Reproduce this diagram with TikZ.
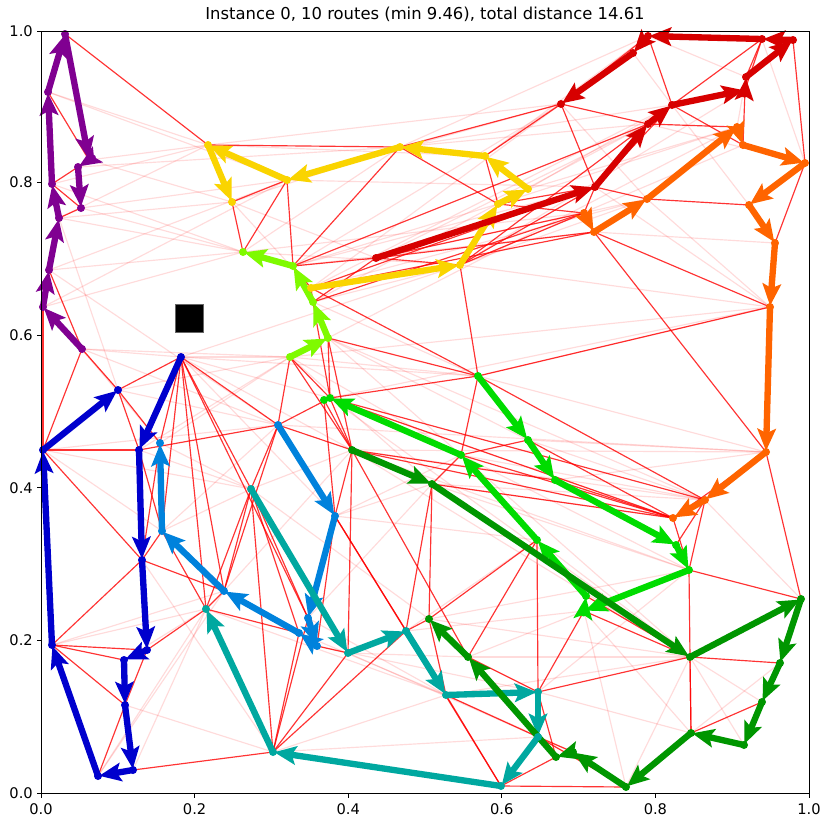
\documentclass[tikz,border=0pt]{standalone}
\usepackage{fontspec}
\setmainfont{DejaVu Sans}
\usetikzlibrary{arrows.meta}
\definecolor{cpur}{RGB}{128,0,145}
\definecolor{cdb}{RGB}{0,0,205}
\definecolor{clb}{RGB}{0,130,220}
\definecolor{cteal}{RGB}{0,168,160}
\definecolor{cyel}{RGB}{250,212,0}
\definecolor{clime}{RGB}{127,250,0}
\definecolor{cgrn}{RGB}{0,220,0}
\definecolor{cdg}{RGB}{0,150,0}
\definecolor{corg}{RGB}{255,100,0}
\definecolor{cred}{RGB}{215,0,0}
\begin{document}
\begin{tikzpicture}[x=0.03cm,y=-0.03cm,
  strong/.style={red, line width=0.035cm, opacity=0.8},
  faint/.style={red, line width=0.035cm, opacity=0.14},
  rte/.style={line width=0.19cm, line cap=round, -{Stealth[length=0.66cm,width=0.55cm,inset=0.13cm]}, shorten >=1pt},
  tick/.style={black, line width=0.025cm},
  lbl/.style={font=\fontsize{12.5}{14}\selectfont, inner sep=0pt}]
\useasboundingbox (0,0) rectangle (831,827);
\fill[white] (0,0) rectangle (831,827);
% purple
\coordinate (p1) at (82,349); \coordinate (p2) at (43,307); \coordinate (p3) at (49,270);
\coordinate (p4) at (59,218); \coordinate (p5) at (52,184); \coordinate (p6) at (48,92);
\coordinate (p7) at (65,34); \coordinate (p8) at (89,160); \coordinate (p9) at (78,167);
\coordinate (p10) at (81,208);
% dark blue
\coordinate (b1) at (181,357); \coordinate (b2) at (139,450); \coordinate (b3) at (142,560);
\coordinate (b4) at (147,650); \coordinate (b5) at (124,660); \coordinate (b6) at (125,705);
\coordinate (b7) at (133,770); \coordinate (b8) at (98,776); \coordinate (b9) at (52,645);
\coordinate (b10) at (43,450); \coordinate (b11) at (118,390);
% light blue
\coordinate (l1) at (278,425); \coordinate (l2) at (335,516); \coordinate (l3) at (308,618);
\coordinate (l4) at (317,646); \coordinate (l5) at (299,633); \coordinate (l6) at (224,591);
\coordinate (l7) at (162,531); \coordinate (l8) at (160,443);
% teal
\coordinate (t1) at (251,489); \coordinate (t2) at (348,653); \coordinate (t3) at (406,631);
\coordinate (t4) at (446,695); \coordinate (t5) at (538,692); \coordinate (t6) at (538,737);
\coordinate (t7) at (501,786); \coordinate (t8) at (273,752); \coordinate (t9) at (206,609);
% yellow
\coordinate (y1) at (311,288); \coordinate (y2) at (460,265); \coordinate (y3) at (498,204);
\coordinate (y4) at (528,189); \coordinate (y5) at (485,156); \coordinate (y6) at (400,147);
\coordinate (y7) at (287,180); \coordinate (y8) at (208,145); \coordinate (y9) at (232,202);
% lime
\coordinate (c1) at (290,357); \coordinate (c2) at (328,338); \coordinate (c3) at (313,302);
\coordinate (c4) at (293,266); \coordinate (c5) at (243,252);
% green
\coordinate (g1) at (478,376); \coordinate (g2) at (528,440); \coordinate (g3) at (555,480);
\coordinate (g4) at (676,545); \coordinate (g5) at (689,570); \coordinate (g6) at (584,611);
\coordinate (g7) at (586,596); \coordinate (g8) at (537,540); \coordinate (g9) at (461,455);
\coordinate (g10) at (330,398); \coordinate (g11) at (324,400);
% dark green
\coordinate (d1) at (352,450); \coordinate (d2) at (432,484); \coordinate (d3) at (690,657);
\coordinate (d4) at (801,599); \coordinate (d5) at (780,663); \coordinate (d6) at (762,702);
\coordinate (d7) at (744,745); \coordinate (d8) at (691,733); \coordinate (d9) at (626,787);
\coordinate (d10) at (573,752); \coordinate (d11) at (556,757); \coordinate (d12) at (468,657);
\coordinate (d13) at (429,619);
% orange
\coordinate (o1) at (584,213); \coordinate (o2) at (594,232); \coordinate (o3) at (647,199);
\coordinate (o4) at (737,127); \coordinate (o5) at (743,145); \coordinate (o6) at (805,163);
\coordinate (o7) at (749,205); \coordinate (o8) at (775,243); \coordinate (o9) at (770,307);
\coordinate (o10) at (766,452); \coordinate (o11) at (705,500); \coordinate (o12) at (673,518);
% red
\coordinate (r1) at (376,258); \coordinate (r2) at (595,187); \coordinate (r3) at (648,124);
\coordinate (r4) at (672,105); \coordinate (r5) at (745,90); \coordinate (r6) at (746,77);
\coordinate (r7) at (793,40); \coordinate (r8) at (762,39); \coordinate (r9) at (648,36);
\coordinate (r10) at (633,53); \coordinate (r11) at (561,104);
% faint background edges
\foreach \a/\b in {b1/g1,b1/c1,b1/y2,p1/c1,p1/b1,p4/y8,p4/c5,p3/y7,p5/y8,p8/y8,p10/y7,p10/c5,p9/y6,p3/l1,p1/l1,p2/c5,
  y8/r11,y7/r11,y6/r3,y5/r9,y6/r4,y7/r2,y9/y1,c5/o1,c4/r2,c3/r3,y1/o3,y1/r4,c2/o4,r1/o3,r1/r3,y2/o5,y2/r5,c1/o9,
  g10/o9,l1/o10,d1/o10,g1/o10,d1/o11,g10/o12,c2/o11,d1/g5,g9/g5,g10/d3,d1/d3,g2/o11,g3/o10,y2/o9,r2/o9,o3/o9,o2/o8,
  r4/o7,r3/o6,r6/o4,r8/o6,c2/g9,l2/g8,l3/t4,l4/t5,t2/t6,t2/d12,t3/g8,t4/d10,d12/g6,d13/d3,l3/d2,b6/t8,b7/t9,b8/l6,
  b9/l6,b5/t9,b2/t1,l8/t1,l7/t1,b3/t8,p1/l8,b10/l7,b11/l1,b1/l2,b1/d1,b1/g10,d4/o11,d5/d8,d6/d3,d7/d3,d9/d3,d9/g6,
  t5/d8,t6/d9,g6/d8,g7/d3,p6/y8,p7/p8,p2/b11,p4/b11,p3/c5,b10/l1,b9/t9,b10/t1,b8/t9,c5/y6,y9/r1,y1/r11,c3/y2,
  c1/g1,c1/g9,c1/d2,c2/g2,c3/g1,c4/o2,y2/o3,g1/o9,g2/o10,g9/o11,d2/g5,d2/o11,l2/d2,l2/g9,t1/d1,t1/d13,l1/t3,t9/t4,
  t8/t4,t8/t6,l5/t4,t3/g6,t4/d3,t5/g5,d12/d3,d13/g5,g8/d3,g9/d3,d2/o12,y3/o4,y4/r4,y4/o4,r11/o3,r9/r6,r10/r4,
  y5/r10,y6/r9,c4/r11,l6/d1,l7/l1,l8/c1,b2/c1,b11/c1,p2/y7,p6/y7,p8/y9,p5/c5,p4/y9,y8/y5,y9/y6,c5/y2,c4/y3}
  \draw[faint] (\a) -- (\b);
% strong background edges
\foreach \a/\b in {p7/y8,p6/p8,p5/p9,p5/p10,p4/p10,p1/p2,p1/b10,p1/b11,p3/p1,b11/b1,b11/b2,b11/l8,b10/b2,b10/b3,
  b1/l8,b1/l1,b1/t1,b1/l6,b1/t9,b1/l7,b1/l3,b2/l1,b2/l7,b3/b9,b3/l6,b3/l7,b4/b9,b4/t9,b4/b6,b5/b9,b6/b9,b6/b8,
  b7/t8,l8/b3,l7/t9,l6/t9,l6/l1,l6/t1,t9/l5,t1/l1,t1/l3,t1/t9,t1/l5,t1/t8,t8/l3,t8/t2,l1/c1,l1/d1,l1/g10,c1/g10,
  c1/d1,c2/g1,c2/g10,c3/y1,c3/r1,c4/y7,c4/y6,c4/y1,c4/r1,c5/y9,c5/y7,y8/y6,y9/y7,y6/y3,y6/r11,y5/r11,y5/y3,
  y2/g1,y2/r2,y2/o1,r1/o1,r1/o2,r1/y2,r11/r3,r11/r10,r11/r2,r10/r9,r3/o4,r4/o5,r4/r9,r5/o5,r5/r8,r6/r8,r7/o6,
  r2/o1,r2/o3,o2/o9,o2/o10,o3/o7,o6/o8,o9/g1,o10/d4,o11/g5,o11/g4,o12/g5,o12/g3,o12/g9,o12/d2,o11/g1,o11/g10,
  g1/g9,g1/g2,g5/d3,g5/d4,g6/d3,g6/t5,g8/t5,g8/d12,g10/d1,g11/l2,g11/d1,d1/l2,d1/t2,d2/d13,d2/g9,d3/d8,d5/d3,
  d9/t7,d10/t6,d11/t6,d11/t7,d12/t5,d13/t3,d13/g8,t2/l4,t4/t7,t4/t6,t5/d3,l2/l4,l5/t8,d1/o12,d1/g3,g10/o12,
  d1/d12,l2/t4,l2/t3,t1/t2,d13/t4,g9/g2,g3/g4,g2/o12,c2/d1,y1/g1,c3/g10,g10/g1,d12/d11,t5/d11,g7/d3,t6/d9,
  d6/d8,d8/d3,o10/o12,d2/t3,t3/t7,t8/t3,b5/b4,b2/b1,b10/b11,p2/b10,y3/r2,y3/o1,y2/r3,r2/r4,r9/r11,r8/r4,
  y1/o2,c3/o1,c4/r3,y1/r2}
  \draw[strong] (\a) -- (\b);
% routes
\foreach \a/\b in {p1/p2,p2/p3,p3/p4,p4/p5,p5/p6,p6/p7,p7/p8,p8/p9,p9/p10}
  \draw[rte,cpur] (\a) -- (\b);
\foreach \a/\b in {b1/b2,b2/b3,b3/b4,b4/b5,b5/b6,b6/b7,b7/b8,b8/b9,b9/b10,b10/b11}
  \draw[rte,cdb] (\a) -- (\b);
\foreach \a/\b in {l1/l2,l2/l3,l3/l4,l4/l5,l5/l6,l6/l7,l7/l8}
  \draw[rte,clb] (\a) -- (\b);
\foreach \a/\b in {t1/t2,t2/t3,t3/t4,t4/t5,t5/t6,t6/t7,t7/t8,t8/t9}
  \draw[rte,cteal] (\a) -- (\b);
\foreach \a/\b in {y1/y2,y2/y3,y3/y4,y4/y5,y5/y6,y6/y7,y7/y8,y8/y9}
  \draw[rte,cyel] (\a) -- (\b);
\foreach \a/\b in {c1/c2,c2/c3,c3/c4,c4/c5}
  \draw[rte,clime] (\a) -- (\b);
\foreach \a/\b in {g1/g2,g2/g3,g3/g4,g4/g5,g5/g6,g6/g7,g7/g8,g8/g9,g9/g10}
  \draw[rte,cgrn] (\a) -- (\b);
\foreach \a/\b in {d1/d2,d2/d3,d3/d4,d4/d5,d5/d6,d6/d7,d7/d8,d8/d9,d9/d10,d10/d11,d11/d12,d12/d13}
  \draw[rte,cdg] (\a) -- (\b);
\foreach \a/\b in {o1/o2,o2/o3,o3/o4,o4/o5,o5/o6,o6/o7,o7/o8,o8/o9,o9/o10,o10/o11,o11/o12}
  \draw[rte,corg] (\a) -- (\b);
\foreach \a/\b in {r1/r2,r2/r3,r3/r4,r4/r5,r5/r6,r6/r7,r7/r8,r8/r9,r9/r10,r10/r11}
  \draw[rte,cred] (\a) -- (\b);
% dots
\foreach \n in {p1,p2,p3,p4,p5,p6,p7,p8,p9,p10} \fill[cpur] (\n) circle (0.12cm);
\foreach \n in {b1,b2,b3,b4,b5,b6,b7,b8,b9,b10,b11} \fill[cdb] (\n) circle (0.12cm);
\foreach \n in {l1,l2,l3,l4,l5,l6,l7,l8} \fill[clb] (\n) circle (0.12cm);
\foreach \n in {t1,t2,t3,t4,t5,t6,t7,t8,t9} \fill[cteal] (\n) circle (0.12cm);
\foreach \n in {y1,y2,y3,y4,y5,y6,y7,y8,y9} \fill[cyel] (\n) circle (0.12cm);
\foreach \n in {c1,c2,c3,c4,c5} \fill[clime] (\n) circle (0.12cm);
\foreach \n in {g1,g2,g3,g4,g5,g6,g7,g8,g9,g10,g11} \fill[cgrn] (\n) circle (0.12cm);
\foreach \n in {d1,d2,d3,d4,d5,d6,d7,d8,d9,d10,d11,d12,d13} \fill[cdg] (\n) circle (0.12cm);
\foreach \n in {o1,o2,o3,o4,o5,o6,o7,o8,o9,o10,o11,o12} \fill[corg] (\n) circle (0.12cm);
\foreach \n in {r1,r2,r3,r4,r5,r6,r7,r8,r9,r10,r11} \fill[cred] (\n) circle (0.12cm);
% depot
\node[fill=black, draw=black!60, line width=0.02cm, minimum size=0.84cm, inner sep=0pt] (depot) at (189,318) {};
% axes
\draw[line width=0.03cm] (41,31) rectangle (809,793);
\foreach \xx/\lab in {41/0.0,194.6/0.2,348.2/0.4,501.8/0.6,655.4/0.8,809/1.0} {
  \draw[tick] (\xx,793) -- (\xx,797.5);
  \node[lbl] at (\xx,809) {\lab};
}
\foreach \yy/\lab in {793/0.0,640.4/0.2,487.8/0.4,335.2/0.6,182.6/0.8,31/1.0} {
  \draw[tick] (41,\yy) -- (36.5,\yy);
  \node[lbl, anchor=east] at (33,\yy) {\lab};
}
\node[font=\fontsize{14}{16}\selectfont, inner sep=0pt] (title) at (425,14) {Instance 0, 10 routes (min 9.46), total distance 14.61};
\end{tikzpicture}
\end{document}
